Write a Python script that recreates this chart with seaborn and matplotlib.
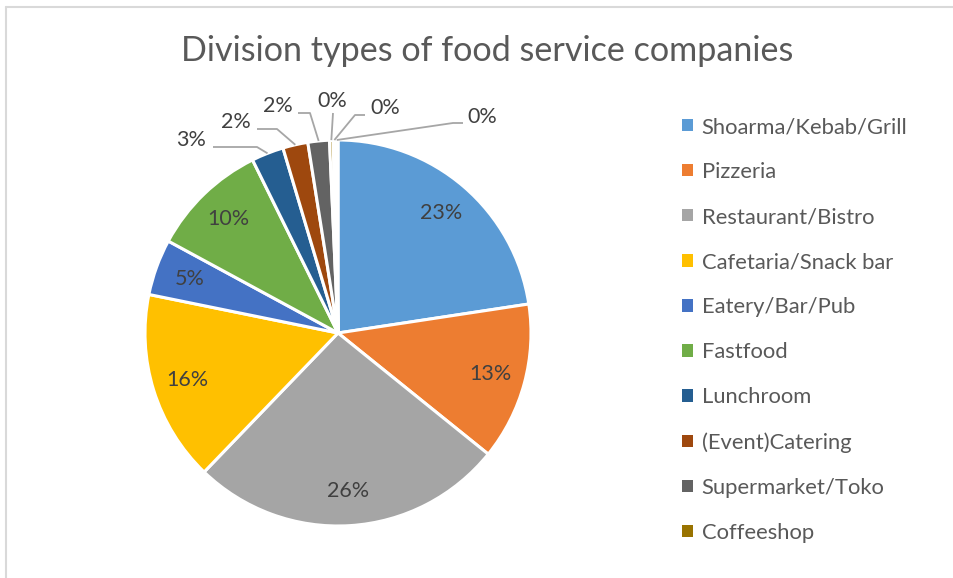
import numpy as np
import matplotlib
matplotlib.use("Agg")
import matplotlib.pyplot as plt
from matplotlib.patches import Patch
from matplotlib.lines import Line2D
import seaborn as sns

# Division types (share of companies, %)
categories = [
    "Shoarma/Kebab/Grill", "Pizzeria", "Restaurant/Bistro", "Cafetaria/Snack bar",
    "Eatery/Bar/Pub", "Fastfood", "Lunchroom", "(Event)Catering",
    "Supermarket/Toko", "Coffeeshop", "Bakery", "Other",
]
shares = [22.6, 13.2, 26.4, 16.0, 4.7, 9.8, 2.7, 2.1, 1.8, 0.3, 0.2, 0.2]
colors = ["#5B9BD5", "#ED7D31", "#A5A5A5", "#FFC000", "#4472C4", "#70AD47",
          "#255E91", "#9E480E", "#636363", "#997300", "#264478", "#43682B"]
legend_count = 10

sns.set_theme(style="white")
plt.rcParams["font.family"] = ["Lato", "DejaVu Sans"]

fig = plt.figure(figsize=(9.54, 5.78), dpi=100)
fig.patch.set_facecolor("white")

# light chart-area border (left and top edges)
fig.add_artist(Line2D([6.5 / 954, 6.5 / 954], [0, 1 - 7 / 578], color="#D9D9D9", lw=1.5,
                      transform=fig.transFigure))
fig.add_artist(Line2D([6.5 / 954, 1], [1 - 7 / 578, 1 - 7 / 578], color="#D9D9D9", lw=1.5,
                      transform=fig.transFigure))

cx, cy, r = 338, 333, 193
ax = fig.add_axes([(cx - r) / 954, (578 - cy - r) / 578, 2 * r / 954, 2 * r / 578])

wedges, _ = ax.pie(shares, colors=colors, startangle=90, counterclock=False,
                   wedgeprops=dict(edgecolor="white", linewidth=2.2))
ax.set_xlim(-1, 1)
ax.set_ylim(-1, 1)
ax.set_aspect("equal")
ax.axis("off")

total = sum(shares)
pct = [f"{v / total * 100:.0f}%" for v in shares]

def mid_angle(w):
    return np.deg2rad((w.theta1 + w.theta2) / 2)

label_color = "#404040"
fs_lab = 15.5
# inside labels for the larger slices
for i in range(6):
    a = mid_angle(wedges[i])
    ax.text(0.82 * np.cos(a), 0.82 * np.sin(a), pct[i], ha="center", va="center",
            fontsize=fs_lab, color=label_color)

# outside labels with leader lines for the small slices
def px(x, y):
    return ((x - cx) / r, (cy - y) / r)

outside = {
    6: ((206, 140), (213, 147), (257, 147), "right"),
    7: ((251, 122), (257, 129), (277, 129), "right"),
    8: ((293, 106), (298, 113), (310, 113), "right"),
    9: ((332, 101), (333, 113), (333, 113), "center"),
    10: ((370, 108), (365, 115), (355, 115), "left"),
    11: ((467, 117), (463, 123), (453, 123), "left"),
}
line_color = "#A6A6A6"
for i, (tpos, start, elbow, ha) in outside.items():
    a = mid_angle(wedges[i])
    ex, ey = np.cos(a), np.sin(a)
    s = px(*start)
    e = px(*elbow)
    ax.plot([s[0], e[0], ex], [s[1], e[1], ey], color=line_color, lw=1.3,
            solid_capstyle="butt", clip_on=False)
    t = px(*tpos)
    ax.text(t[0], t[1], pct[i], ha=ha, va="center", fontsize=fs_lab,
            color=label_color, clip_on=False)

fig.text(487 / 954, 1 - 51 / 578, "Division types of food service companies",
         ha="center", va="center", fontsize=24.6, color="#595959")

handles = [Patch(facecolor=colors[i], edgecolor="none") for i in range(legend_count)]
leg = fig.legend(handles, categories[:legend_count], loc="upper left",
                 bbox_to_anchor=(682 / 954, 1 - 117 / 578), frameon=False,
                 fontsize=15.8, labelcolor="#595959", handlelength=0.5, handleheight=0.5,
                 handletextpad=0.4, labelspacing=1.14, borderaxespad=0, borderpad=0)

fig.savefig("out.png", dpi=100, facecolor="white")
